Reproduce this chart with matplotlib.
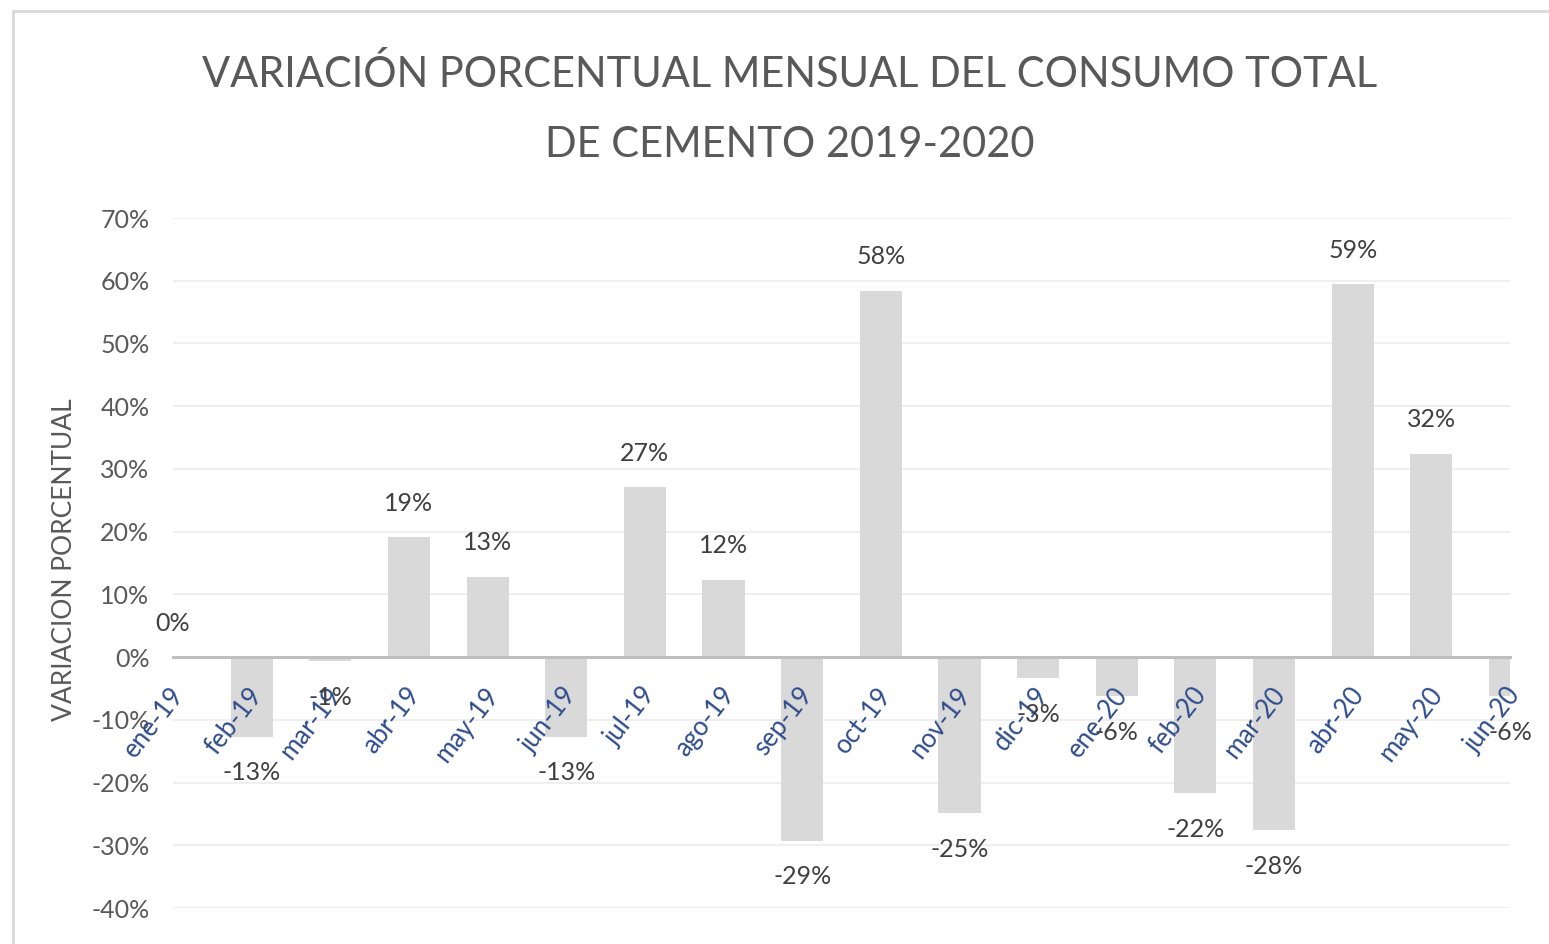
import matplotlib
matplotlib.use("Agg")
import matplotlib.pyplot as plt
import matplotlib.transforms as mtransforms
from matplotlib.patches import Rectangle
from matplotlib.ticker import FuncFormatter, MultipleLocator

meses = ['ene-19', 'feb-19', 'mar-19', 'abr-19', 'may-19', 'jun-19',
         'jul-19', 'ago-19', 'sep-19', 'oct-19', 'nov-19', 'dic-19',
         'ene-20', 'feb-20', 'mar-20', 'abr-20', 'may-20', 'jun-20']
variacion = [0.0, -12.7, -0.7, 19.1, 12.8, -12.7,
             27.1, 12.3, -29.3, 58.4, -24.9, -3.4,
             -6.2, -21.7, -27.6, 59.4, 32.4, -6.2]

titulo = 'VARIACIÓN PORCENTUAL MENSUAL DEL CONSUMO TOTAL\nDE CEMENTO 2019-2020'
eje_y = 'VARIACION PORCENTUAL'

plt.rcParams['font.family'] = ['Lato', 'DejaVu Sans']

W, H = 1549, 944
fig = plt.figure(figsize=(W / 100, H / 100), dpi=100)
ax = fig.add_axes([173 / W, 1 - 908 / H, (1510 - 173) / W, (908 - 218) / H])

x = list(range(len(meses)))
ax.bar(x, variacion, width=0.535, color='#D9D9D9', zorder=2)

ax.set_xlim(0, len(meses) - 1)
ax.set_ylim(-40, 70)
ax.yaxis.set_major_locator(MultipleLocator(10))
ax.yaxis.set_major_formatter(FuncFormatter(lambda v, p: f'{v:.0f}%'))
ax.grid(axis='y', color='#EFEFEF', linewidth=1.5)
ax.yaxis.set_zorder(0.5)
ax.xaxis.set_zorder(5)

for s in ['top', 'right', 'left']:
    ax.spines[s].set_visible(False)
ax.spines['bottom'].set_position(('data', 0))
ax.spines['bottom'].set_color('#BFBFBF')
ax.spines['bottom'].set_linewidth(2.2)
ax.spines['bottom'].set_zorder(3)

ax.tick_params(axis='y', length=0, labelsize=18, labelcolor='#595959', pad=17)
ax.tick_params(axis='x', length=0, labelsize=18.5, labelcolor='#2F4C8C', pad=24)
ax.set_xticks(x)
ax.set_xticklabels(meses, rotation=52, ha='right', va='center', rotation_mode='anchor')
shift = mtransforms.ScaledTranslation(6 / 100, 0, fig.dpi_scale_trans)
for lab in ax.get_xticklabels():
    lab.set_transform(lab.get_transform() + shift)

for i, v in enumerate(variacion):
    off = 24.5 if v >= 0 else -26
    ax.annotate(f'{round(v):.0f}%', (i, v), xytext=(0, off), textcoords='offset points',
                ha='center', va='center', fontsize=18, color='#404040',
                annotation_clip=False, zorder=6)

fig.text(65 / W, 1 - 560 / H, eje_y, rotation=90, ha='center', va='center',
         fontsize=19, color='#595959')

lineas = titulo.split('\n')
fig.text(790 / W, 1 - 87 / H, lineas[0], ha='center', va='baseline', fontsize=30,
         color='#595959')
fig.text(790 / W, 1 - 157 / H, lineas[1], ha='center', va='baseline', fontsize=30,
         color='#595959')

fig.patches.append(Rectangle((13 / W, -0.1), 1.2, 1.1 - 11 / H, transform=fig.transFigure,
                             fill=False, edgecolor='#D9D9D9', linewidth=2))

fig.savefig('out.png', dpi=100)
